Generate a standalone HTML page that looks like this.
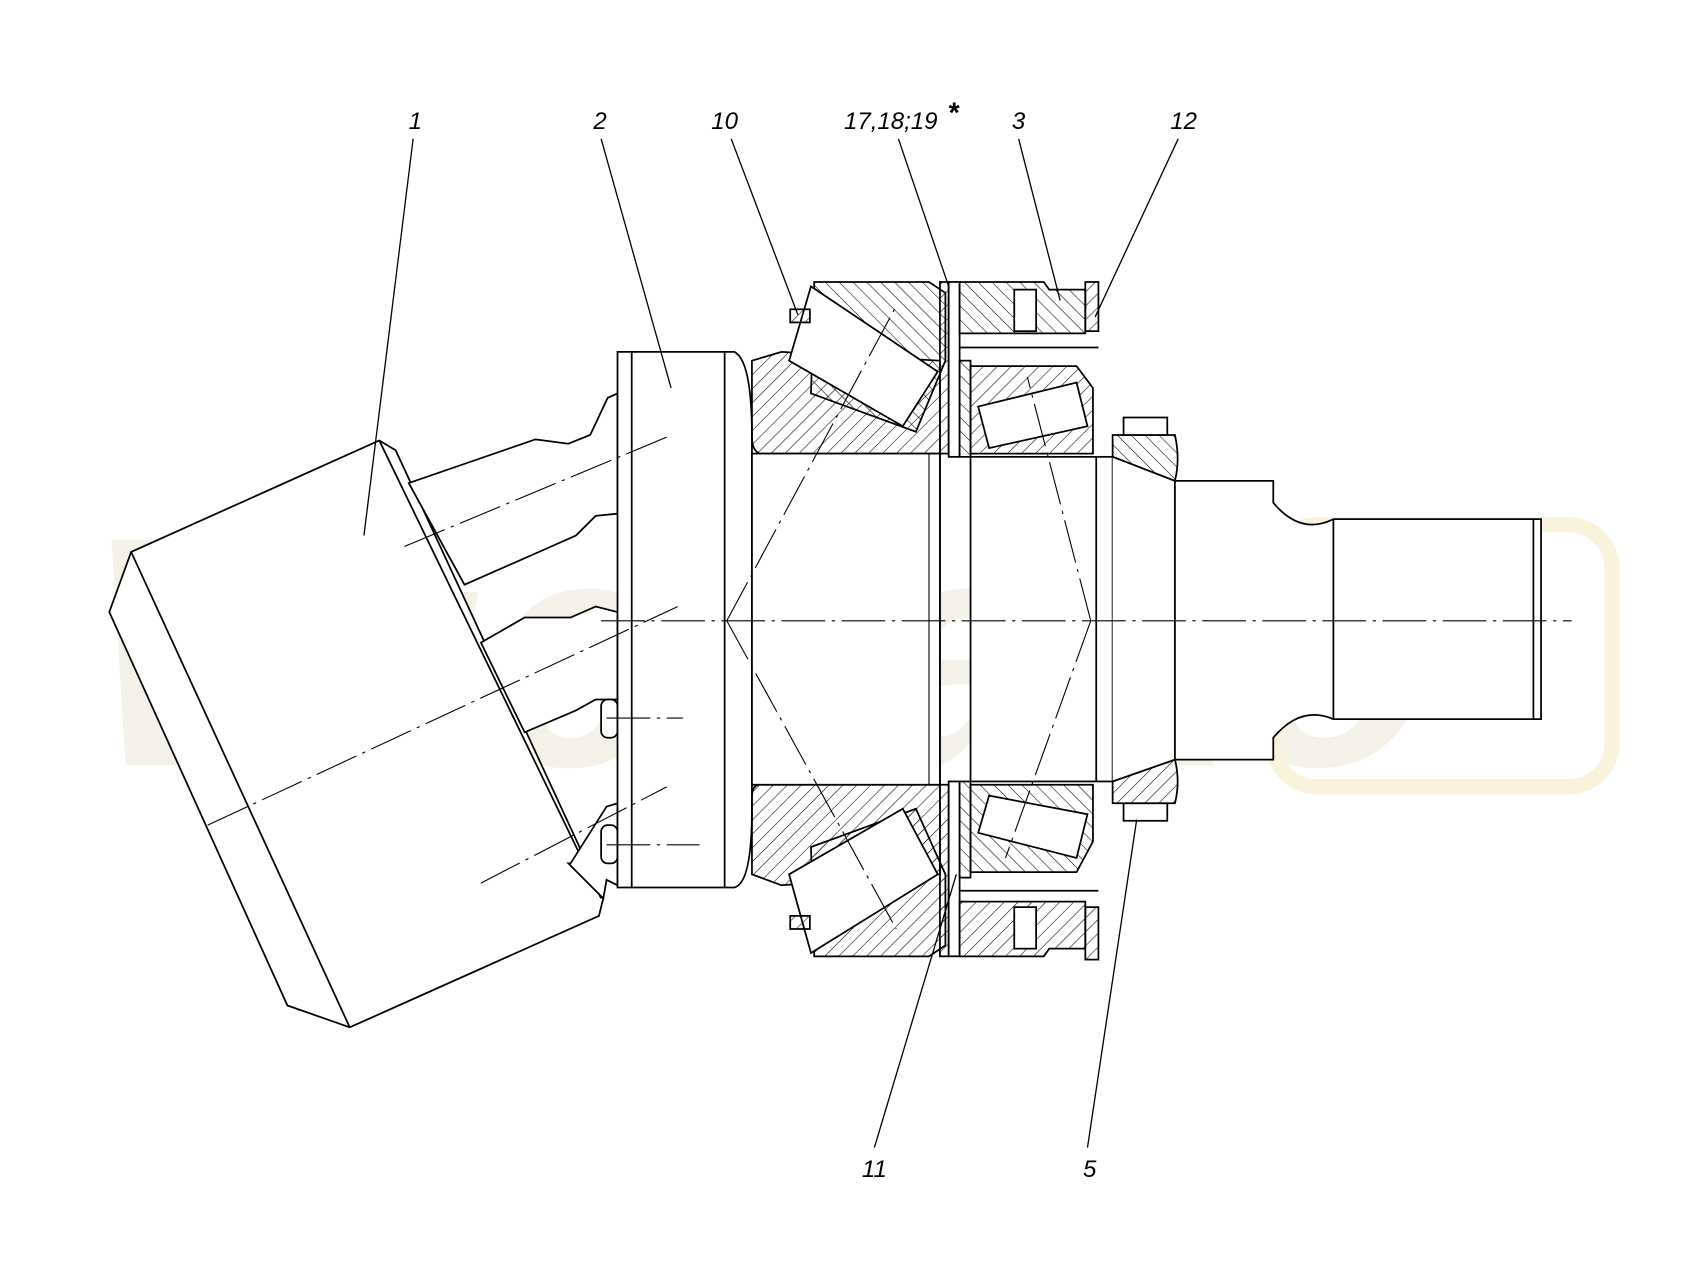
<!DOCTYPE html>
<html><head><meta charset="utf-8"><style>html,body{margin:0;padding:0;background:#fff}svg{display:block}</style></head>
<body>
<svg width="1705" height="1276" viewBox="0 0 1560 1167.5" preserveAspectRatio="none" xmlns="http://www.w3.org/2000/svg">
<defs>
<pattern id="h" width="9" height="9" patternUnits="userSpaceOnUse" patternTransform="rotate(45)"><line x1="0" y1="0" x2="0" y2="9" stroke="#000" stroke-width="1"/></pattern>
<pattern id="h2" width="9" height="9" patternUnits="userSpaceOnUse" patternTransform="rotate(-45)"><line x1="0" y1="0" x2="0" y2="9" stroke="#000" stroke-width="1"/></pattern>
</defs>
<rect width="1560" height="1168" fill="#fff"/>
<text x="80" y="700" font-family="Liberation Sans, sans-serif" font-weight="bold" font-style="italic" font-size="300" fill="#f4f1e8">Wiedako</text>
<rect x="1165" y="480" width="310" height="240" rx="40" fill="none" stroke="#faf3dc" stroke-width="14"/>
<g fill="none" stroke="#000" stroke-width="1.6">
<polygon points="100,560 120,505 347,403 362,412 552,822 548,838 320,940 263,920" fill="#fff"/>
<line x1="120" y1="505" x2="320" y2="940"/>
<line x1="347" y1="403" x2="550" y2="822"/>
<polygon points="374,442 490,402 520,406 540,398 556,364 565,360 565,470 545,472 527,490 425,535" fill="#fff"/>
<polygon points="440,588 480,565 522,565 545,555 565,560 565,640 545,640 527,650 480,670" fill="#fff"/>
<polygon points="520,790 522,790 555,738 565,735 565,810 555,805 552,822" fill="#fff"/>
<rect x="550" y="640" width="15" height="35" rx="6" fill="#fff"/>
<rect x="550" y="755" width="15" height="35" rx="6" fill="#fff"/>
<path d="M565,322 H672 Q688,330 688,400 V740 Q688,808 672,812 H565 Z" fill="#fff"/>
<line x1="578" y1="322" x2="578" y2="812"/>
<line x1="663" y1="322" x2="663" y2="812"/>
<path d="M688,330 L715,322 L860,330 V415 H695 Q688,412 688,400 Z" fill="url(#h)"/>
<path d="M688,730 Q688,718 695,718 H860 V800 L715,810 L688,800 Z" fill="url(#h)"/>
<rect x="688" y="415" width="172" height="303" fill="#fff"/>
<path d="M745,258 H850 L865,268 V330 L838,395 L742,360 Z" fill="url(#h2)"/>
<path d="M745,875 H850 L865,865 V800 L838,740 L742,775 Z" fill="url(#h)"/>
<polygon points="742,262 722,330 826,390 858,340" fill="#fff"/>
<polygon points="742,872 722,800 826,740 858,800" fill="#fff"/>
<rect x="723" y="283" width="18" height="12" fill="url(#h)"/>
<rect x="723" y="838" width="18" height="12" fill="url(#h)"/>
<rect x="860" y="258" width="8" height="157" fill="url(#h)"/>
<rect x="860" y="718" width="8" height="157" fill="url(#h)"/>
<rect x="868" y="258" width="10" height="160" fill="#fff"/>
<rect x="868" y="715" width="10" height="160" fill="#fff"/>
<rect x="878" y="330" width="10" height="88" fill="url(#h2)"/>
<rect x="878" y="715" width="10" height="88" fill="url(#h2)"/>
<path d="M878,258 H955 L960,265 H993 V305 H878 Z" fill="url(#h2)"/>
<path d="M878,875 H955 L960,868 H993 V825 H878 Z" fill="url(#h)"/>
<rect x="993" y="258" width="12" height="45" fill="url(#h)"/>
<rect x="993" y="830" width="12" height="48" fill="url(#h)"/>
<rect x="928" y="265" width="20" height="38" fill="#fff"/>
<rect x="928" y="830" width="20" height="38" fill="#fff"/>
<line x1="878" y1="318" x2="1005" y2="318"/>
<line x1="878" y1="815" x2="1005" y2="815"/>
<path d="M888,335 H985 L1000,355 V415 H888 Z" fill="url(#h)"/>
<path d="M888,718 H1000 V770 L985,798 H888 Z" fill="url(#h2)"/>
<polygon points="895,372 985,350 995,390 905,410" fill="#fff"/>
<polygon points="895,762 985,785 995,745 905,728" fill="#fff"/>
<rect x="888" y="418" width="130" height="297" fill="#fff"/>
<line x1="1003" y1="418" x2="1003" y2="715"/>
<path d="M1018,398 H1075 Q1080,420 1075,440 L1018,418 Z" fill="url(#h2)"/>
<path d="M1018,735 H1075 Q1080,715 1075,695 L1018,715 Z" fill="url(#h)"/>
<rect x="1028" y="382" width="40" height="16" fill="#fff"/>
<rect x="1028" y="735" width="40" height="16" fill="#fff"/>
<path d="M1018,418 L1075,440 V695 L1018,715" fill="#fff"/>
<path d="M1075,440 H1165 V460 Q1190,490 1220,475 H1410 V658 H1220 Q1190,645 1165,675 V695 H1075 Z" fill="#fff"/>
<line x1="1220" y1="475" x2="1220" y2="658"/>
<line x1="1403" y1="475" x2="1403" y2="658"/>
<line x1="860" y1="415" x2="860" y2="718"/>
<line x1="850" y1="415" x2="850" y2="718" stroke-width="1"/>
</g>
<g stroke="#000" stroke-width="1" fill="none" stroke-dasharray="40,6,3,6">
<line x1="550" y1="568" x2="1438" y2="568"/>
<line x1="190" y1="755" x2="620" y2="555"/>
<line x1="370" y1="500" x2="610" y2="400"/>
<line x1="440" y1="808" x2="610" y2="720"/>
<line x1="555" y1="657" x2="625" y2="657"/>
<line x1="555" y1="773" x2="640" y2="773"/>
<line x1="665" y1="568" x2="820" y2="280"/>
<line x1="665" y1="568" x2="820" y2="850"/>
<line x1="998" y1="568" x2="940" y2="345"/>
<line x1="998" y1="568" x2="920" y2="785"/>
</g>
<g stroke="#000" stroke-width="1.2">
<line x1="378" y1="127" x2="333" y2="490"/>
<line x1="550" y1="127" x2="614" y2="355"/>
<line x1="669" y1="127" x2="730" y2="288"/>
<line x1="822" y1="127" x2="868" y2="262"/>
<line x1="932" y1="127" x2="970" y2="275"/>
<line x1="1078" y1="127" x2="1002" y2="290"/>
<line x1="800" y1="1050" x2="875" y2="800"/>
<line x1="995" y1="1050" x2="1040" y2="750"/>
</g>
<g font-family="Liberation Sans, sans-serif" font-style="italic" font-size="22" fill="#000" text-anchor="middle">
<text x="380" y="118">1</text>
<text x="549" y="118">2</text>
<text x="663" y="118">10</text>
<text x="815" y="118">17,18;19</text>
<text x="872" y="112" font-size="26" font-weight="bold">*</text>
<text x="932" y="118">3</text>
<text x="1083" y="118">12</text>
<text x="800" y="1077">11</text>
<text x="997" y="1077">5</text>
</g>
</svg>
</body></html>
